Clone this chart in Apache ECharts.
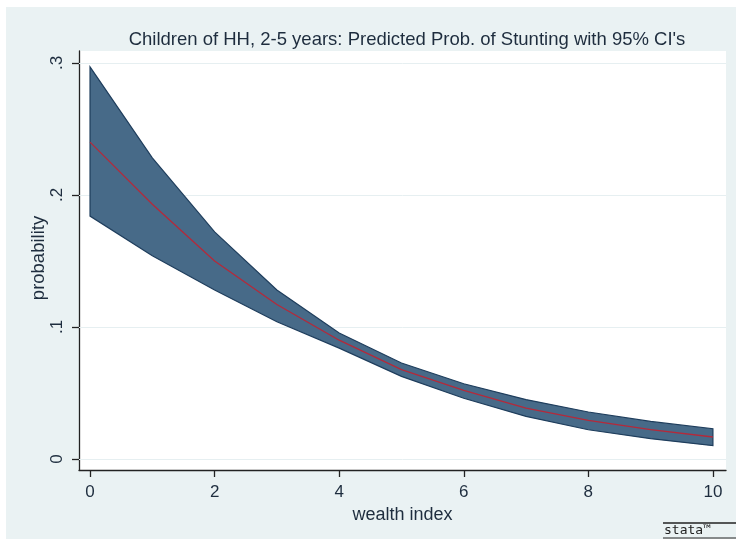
<!DOCTYPE html>
<html><head><meta charset="utf-8">
<script src="https://cdn.jsdelivr.net/npm/echarts@6/dist/echarts.min.js"></script>
<style>html,body{margin:0;padding:0;background:#fff}#c{width:736px;height:539px}</style>
</head><body><div id="c"></div>
<script>
const wealth = [0,1,2,3,4,5,6,7,8,9,10];
const predicted = [0.240,0.193,0.150,0.117,0.090,0.0677,0.052,0.0386,0.0292,0.0222,0.0167];
const upperCI = [0.297,0.228,0.172,0.128,0.0955,0.0727,0.057,0.045,0.0356,0.0285,0.023];
const lowerCI = [0.184,0.154,0.128,0.104,0.084,0.0626,0.046,0.0323,0.0222,0.0154,0.0101];
const xTicks = [0,2,4,6,8,10];
const yTicks = [0,0.1,0.2,0.3];
const yTickLabels = ['0','.1','.2','.3'];

const chart = echarts.init(document.getElementById('c'));
const font = 'Liberation Sans, Arial, sans-serif';
const bandPoly = wealth.map((x,i)=>[x,upperCI[i]]).concat(wealth.slice().reverse().map((x,j)=>[x,lowerCI[wealth.length-1-j]]));

chart.setOption({
  backgroundColor: '#ffffff',
  animation: false,
  graphic: [
    {type:'rect', z:-10, shape:{x:6,y:7,width:730,height:532}, style:{fill:'#EAF2F3'}},
    {type:'text', z:10, x:39, y:258, rotation:Math.PI/2,
      style:{text:'probability', font:'18.5px Liberation Sans, Arial, sans-serif', fill:'#1E2D3E', align:'center', verticalAlign:'middle'}},
    {type:'line', z:10, shape:{x1:663,y1:523,x2:736,y2:523}, style:{stroke:'#222',lineWidth:1.5}},
    {type:'text', z:10, left:664, top:524, style:{text:'stata\u2122', font:'13px DejaVu Sans Mono', fill:'#222', letterSpacing:2.5}},
    {type:'line', z:10, shape:{x1:663,y1:538,x2:736,y2:538}, style:{stroke:'#222',lineWidth:1}}
  ],
  title: {
    text: "Children of HH, 2-5 years: Predicted Prob. of Stunting with 95% CI's",
    left: 402, textAlign: 'center', top: 25,
    textStyle: {fontFamily: font, fontSize: 18.5, fontWeight: 'normal', color: '#1E2D3E'}
  },
  grid: {left:79, right:10, top:51, bottom:69, show:true, backgroundColor:'#ffffff', borderWidth:0, containLabel:false},
  xAxis: {
    type:'value', min:-0.177, max:10.21,
    name:'wealth index', nameLocation:'middle', nameGap:30,
    nameTextStyle:{fontFamily:font, fontSize:18, color:'#1E2D3E'},
    axisLine:{show:true, onZero:false, lineStyle:{color:'#222', width:1.3}},
    axisTick:{show:true, length:7, customValues: xTicks, lineStyle:{color:'#222', width:1.3}},
    axisLabel:{customValues: xTicks, margin:14, fontFamily:font, fontSize:17, color:'#1E2D3E'},
    splitLine:{show:false}
  },
  yAxis: {
    type:'value', min:-0.0083, max:0.309,
    axisLine:{show:true, onZero:false, lineStyle:{color:'#222', width:1.3}},
    axisTick:{show:true, length:7, customValues: yTicks, lineStyle:{color:'#222', width:1.3}},
    axisLabel:{customValues: yTicks, rotate:90, margin:13, fontFamily:font, fontSize:17, color:'#1E2D3E',
      formatter: v => { const i = yTicks.findIndex(t=>Math.abs(t-v)<1e-9); return i>=0 ? yTickLabels[i] : ''; }},
    splitLine:{show:false}
  },
  series: [
    {
      type:'line', data:[], silent:true, z:1,
      markLine:{silent:true, z:1, symbol:'none', label:{show:false}, lineStyle:{color:'#E6EFF1', width:1, type:'solid'},
        data: yTicks.map(v=>({yAxis:v}))}
    },
    {
      type:'custom', silent:true, z:3,
      data:[0],
      renderItem: function(params, api){
        const pts = bandPoly.map(p=>api.coord(p));
        return {type:'polygon', shape:{points:pts}, style:{fill:'#476A88', stroke:'#1E3D5C', lineWidth:1.2}};
      }
    },
    {
      type:'line', z:4, data: wealth.map((x,i)=>[x,predicted[i]]), symbol:'none', silent:true,
      lineStyle:{color:'#B5293A', width:1.3}
    }
  ]
});
</script></body></html>
